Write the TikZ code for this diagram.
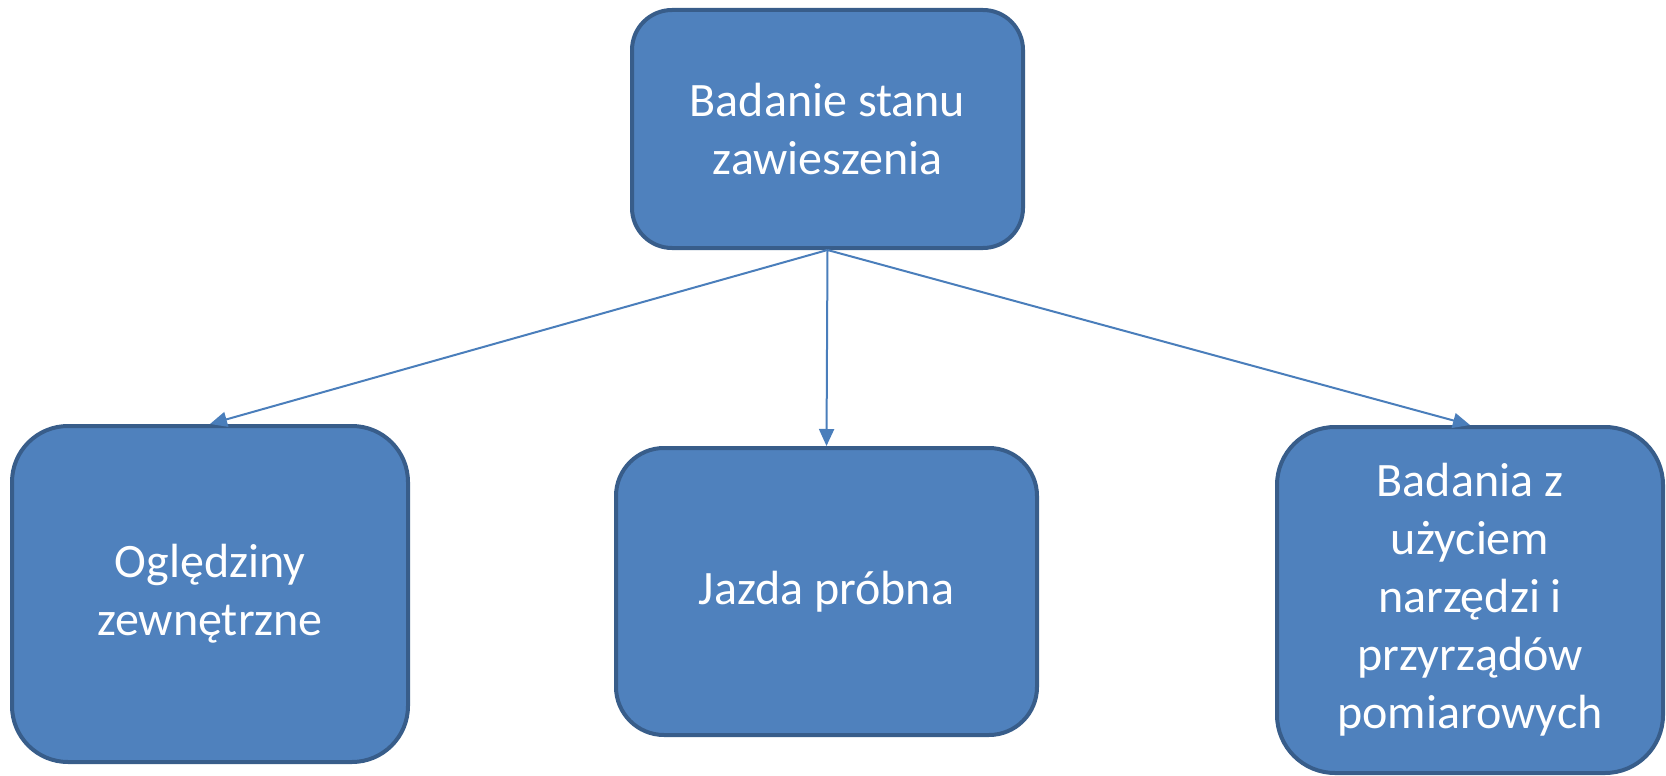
\documentclass[tikz,border=0pt]{standalone}
\usepackage{fontspec}
\setmainfont{Carlito}
\usetikzlibrary{arrows.meta}
\definecolor{boxfill}{HTML}{4F81BD}
\definecolor{boxline}{HTML}{385D8A}
\definecolor{arrowc}{HTML}{4A7EBB}
\tikzset{
  box/.style={draw=boxline, fill=boxfill, line width=4pt, text=white,
    align=center, inner sep=0pt, font=\fontsize{48}{58}\selectfont},
  conn/.style={draw=arrowc, line width=2pt, -{Triangle[length=17pt,width=15pt]}}
}
\begin{document}
\begin{tikzpicture}[x=1pt,y=-1pt]
\useasboundingbox (0,0) rectangle (1666,776);
\node[box, minimum width=391pt, minimum height=238pt, rounded corners=40pt] (top) at (827.5,129) {Badanie stanu\\zawieszenia};
\node[box, minimum width=396pt, minimum height=336pt, rounded corners=56pt] (left) at (210,594) {Oględziny\\zewnętrzne};
\node[box, minimum width=421pt, minimum height=287pt, rounded corners=48pt] (mid) at (826.5,591.5) {Jazda próbna};
\node[box, minimum width=386pt, minimum height=346pt, rounded corners=58pt] (right) at (1470,600) {Badania z\\użyciem\\narzędzi i\\przyrządów\\pomiarowych};
\draw[conn] (top.south) -- (left.north);
\draw[conn] (top.south) -- (mid.north);
\draw[conn] (top.south) -- (right.north);
\end{tikzpicture}
\end{document}
